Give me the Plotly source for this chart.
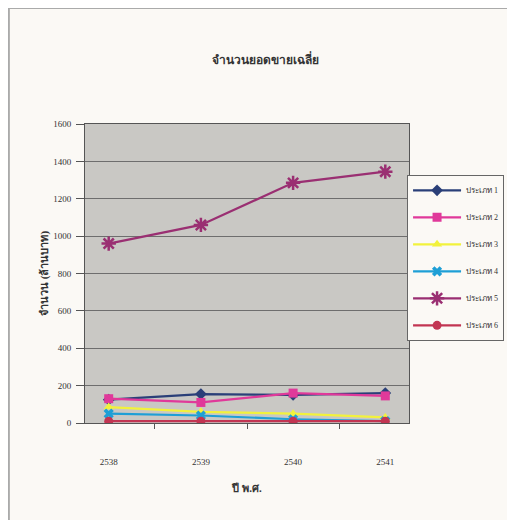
import plotly.graph_objects as go

years = ["2538", "2539", "2540", "2541"]
series_names = ["ประเภท 1", "ประเภท 2", "ประเภท 3", "ประเภท 4", "ประเภท 5", "ประเภท 6"]
type1 = [125, 155, 150, 160]
type2 = [130, 110, 160, 145]
type3 = [85, 60, 50, 30]
type4 = [50, 40, 20, 10]
type5 = [960, 1060, 1285, 1345]
type6 = [10, 10, 10, 10]
values = [type1, type2, type3, type4, type5, type6]
y_ticks = [0, 200, 400, 600, 800, 1000, 1200, 1400, 1600]

colors = ["#2a3f78", "#e0399a", "#f2f23c", "#1e9fd6", "#9a2f72", "#c23552"]
symbols = ["diamond", "square", "triangle-up", "x", "asterisk-open", "circle"]
sizes = [9, 9, 9, 9, 12, 9]

font = "Liberation Serif"
fig = go.Figure()
for name, vals, c, s, sz in zip(series_names, values, colors, symbols, sizes):
    marker = dict(symbol=s, size=sz, color=c)
    if s == "asterisk-open":
        marker["line"] = dict(color=c, width=2.5)
    fig.add_trace(go.Scatter(
        x=years, y=vals, name=name, mode="lines+markers",
        line=dict(color=c, width=2.2), marker=marker, legendgroup=name,
    ))

fig.update_layout(
    width=515, height=520,
    margin=dict(l=77, r=114, t=116, b=105),
    paper_bgcolor="#fbf9f5",
    plot_bgcolor="#c9c8c4",
    font=dict(family=font, size=9, color="#333333"),
    title=dict(text="<b>จำนวนยอดขายเฉลี่ย</b>", x=0.5, xanchor="center", y=0.9, yanchor="middle",
               font=dict(family=font, size=12, color="#333333")),
    showlegend=True,
    legend=dict(x=0.994, xanchor="left", y=0.83, yanchor="top",
                bgcolor="#fbf9f5", bordercolor="#666666", borderwidth=1, itemwidth=48,
                font=dict(size=8, family=font), tracegroupgap=8),
    xaxis=dict(
        type="category", showgrid=False, ticks="outside", ticklen=5, tickson="boundaries",
        tickcolor="#555555", showline=True, linecolor="#555555", linewidth=1,
        ticklabelstandoff=30,
        title=dict(text="<b>ปี พ.ศ.</b>", font=dict(size=11, family=font), standoff=18),
        tickfont=dict(size=9),
    ),
    yaxis=dict(
        range=[0, 1600], tickvals=y_ticks, showgrid=True, gridcolor="#6e6e6e", gridwidth=1,
        ticks="outside", ticklen=8, tickcolor="#555555", showline=True, linecolor="#555555",
        linewidth=1, zeroline=False, mirror=True, ticklabelstandoff=3,
        title=dict(text="<b>จำนวน (ล้านบาท)</b>", font=dict(size=11, family=font), standoff=2),
        tickfont=dict(size=9),
    ),
    shapes=[dict(type="rect", xref="paper", yref="paper", x0=-0.235, x1=1.4, y0=-0.45, y1=1.388,
                 line=dict(color="#aaaaaa", width=2), fillcolor="rgba(0,0,0,0)", layer="below")],
)
fig.update_xaxes(mirror=True)
fig.write_html("out.html")
